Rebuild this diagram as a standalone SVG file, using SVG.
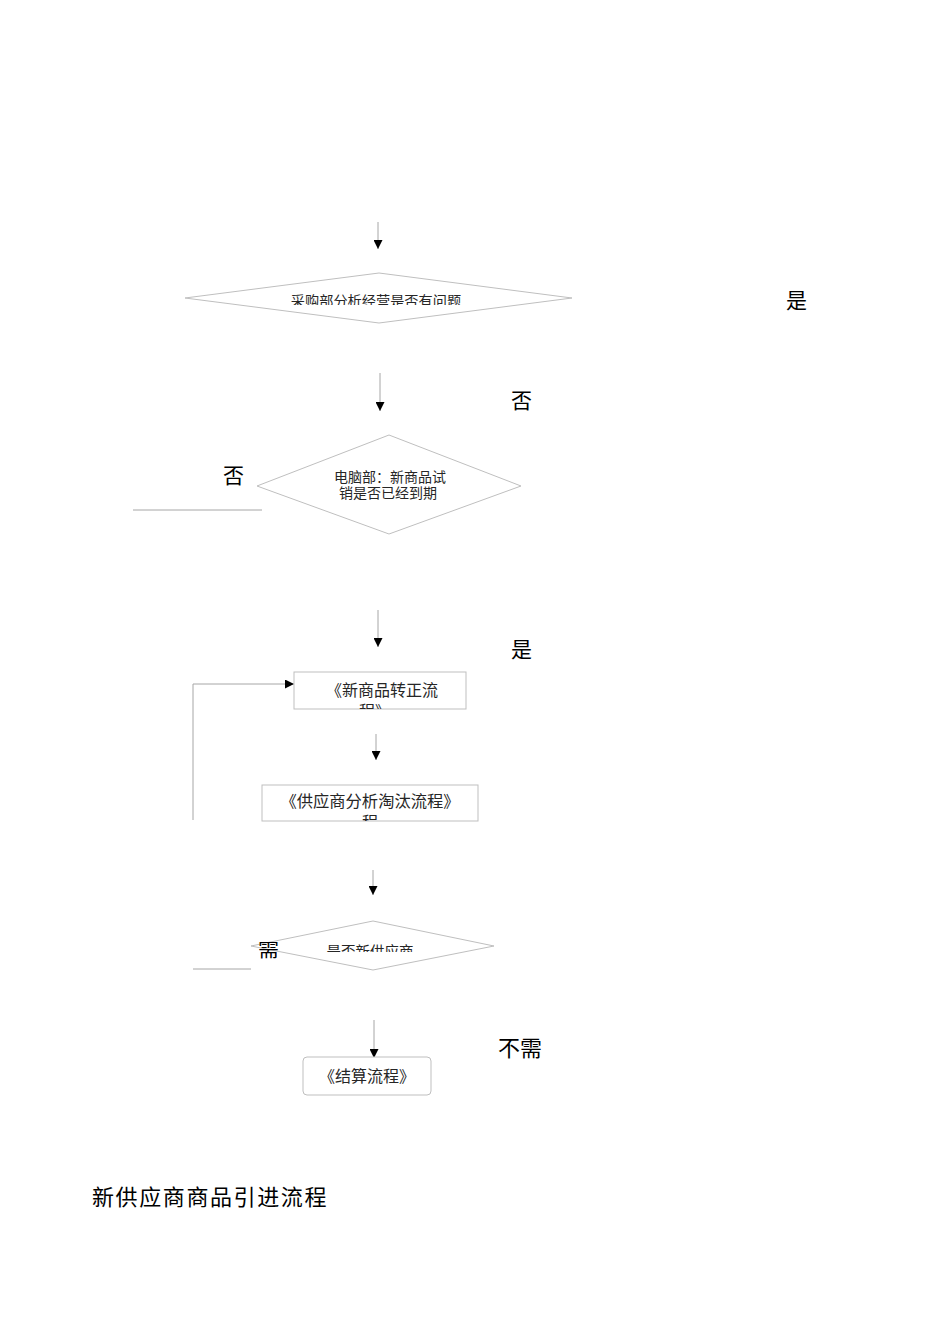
<svg xmlns="http://www.w3.org/2000/svg" width="950" height="1344" viewBox="0 0 950 1344">
<style>
.shape{fill:#fff;stroke:#bfbfbf;stroke-width:1}
.ln{fill:none;stroke:#a6a6a6;stroke-width:1}
.t{font-family:"Liberation Serif","Noto Sans CJK SC",serif;fill:#262626;text-anchor:middle}
.lbl{font-family:"Liberation Serif","Noto Sans CJK SC",serif;fill:#000}
</style>
<defs>
<marker id="ah" viewBox="0 0 10 10" refX="10" refY="5" markerWidth="10" markerHeight="9" markerUnits="userSpaceOnUse" orient="auto">
<path d="M0,0 L10,5 L0,10 z" fill="#000"/>
</marker>
<clipPath id="c1"><rect x="180" y="270" width="400" height="35"/></clipPath>
<clipPath id="c3"><rect x="294" y="672" width="172" height="37"/></clipPath>
<clipPath id="c4"><rect x="262" y="785" width="216" height="36"/></clipPath>
<clipPath id="c5"><rect x="250" y="920" width="250" height="32"/></clipPath>
<clipPath id="c6"><rect x="250" y="942" width="40" height="30"/></clipPath>
</defs>
<g id="connectors">
<line class="ln" x1="378" y1="222" x2="378" y2="249" marker-end="url(#ah)"/>
<line class="ln" x1="380" y1="373" x2="380" y2="411" marker-end="url(#ah)"/>
<line class="ln" x1="133" y1="510" x2="262" y2="510"/>
<line class="ln" x1="378" y1="610" x2="378" y2="647" marker-end="url(#ah)"/>
<polyline class="ln" points="193,820 193,684 294,684" marker-end="url(#ah)"/>
<line class="ln" x1="376" y1="734" x2="376" y2="760" marker-end="url(#ah)"/>
<line class="ln" x1="373" y1="870" x2="373" y2="895" marker-end="url(#ah)"/>
<line class="ln" x1="193" y1="969" x2="251" y2="969"/>
<line class="ln" x1="374" y1="1020" x2="374" y2="1058" marker-end="url(#ah)"/>
</g>
<g id="n1">
<polygon class="shape" points="185,298 379,273 572,298 379,323"/>
<text class="t" x="376" y="306" font-size="14.2" clip-path="url(#c1)">采购部分析经营是否有问题</text>
</g>
<g id="n2">
<polygon class="shape" points="257,486 389,435 521,486 389,534"/>
<text class="t" x="390" y="482" font-size="14">电脑部：新商品试</text>
<text class="t" x="388" y="498" font-size="14">销是否已经到期</text>
</g>
<g id="n3">
<rect class="shape" x="294" y="672" width="172" height="37"/>
<g clip-path="url(#c3)">
<text class="t" x="382" y="696" font-size="16">《新商品转正流</text>
<text class="t" x="375" y="717" font-size="16">程》</text>
</g>
</g>
<g id="n4">
<rect class="shape" x="262" y="785" width="216" height="36"/>
<g clip-path="url(#c4)">
<text class="t" x="370" y="807" font-size="16.3">《供应商分析淘汰流程》</text>
<text class="t" x="370" y="828" font-size="16">程</text>
</g>
</g>
<g id="n5">
<polygon class="shape" points="251,946 373,921 494,946 373,970"/>
<text class="t" x="370" y="957" font-size="14.5" clip-path="url(#c5)">是否新供应商</text>
</g>
<g id="n6">
<rect class="shape" x="303" y="1057" width="128" height="38" rx="4"/>
<text class="t" x="367" y="1082" font-size="16">《结算流程》</text>
</g>
<g id="labels">
<text class="lbl" x="786" y="308" font-size="21">是</text>
<text class="lbl" x="511" y="408" font-size="21">否</text>
<text class="lbl" x="223" y="483" font-size="21">否</text>
<text class="lbl" x="511" y="657" font-size="21">是</text>
<text class="lbl" x="258" y="956" font-size="21" clip-path="url(#c6)">需</text>
<text class="lbl" x="498" y="1056" font-size="22">不需</text>
<text class="lbl" x="92" y="1205" font-size="22" letter-spacing="1.6">新供应商商品引进流程</text>
</g>
</svg>
